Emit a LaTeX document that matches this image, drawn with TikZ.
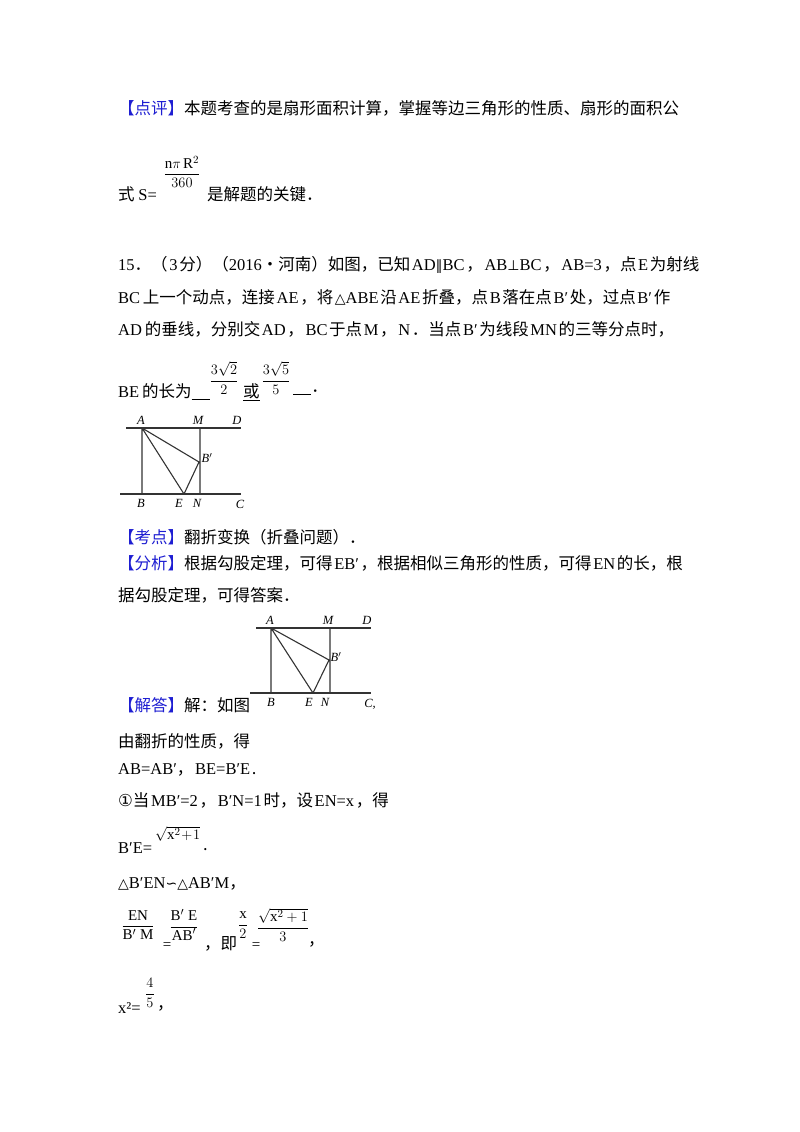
\documentclass[tikz,border=0pt]{standalone}
\usepackage{fontspec}
\setmainfont{Liberation Serif}
\newfontfamily\cjk{Noto Sans CJK SC}
\newfontfamily\sym{DejaVu Sans}
\definecolor{kb}{RGB}{30,30,210}
\newcommand{\lt}[1]{{\rmfamily\hspace{0.1em}#1\hspace{0.1em}}}
\newcommand{\sy}[1]{{\sym\fontsize{14}{16}\selectfont #1}}
\newcommand{\kw}[1]{{\color{kb}【#1】}}
\begin{document}
\begin{tikzpicture}[x=1pt,y=-1pt,
  tx/.style={anchor=west,inner sep=0pt,font=\cjk\fontsize{16.5}{20}\selectfont},
  fr/.style={inner sep=0pt,font=\fontsize{15}{16}\selectfont},
  lb/.style={inner sep=0pt,font=\itshape\fontsize{12.5}{12}\selectfont},
  ln/.style={line width=1.1pt,black!80}]
\useasboundingbox (0,0) rectangle (800,1132);
\fill[white] (0,0) rectangle (800,1132);
\node[tx] (t1) at (118,108) {\kw{点评}本题考查的是扇形面积计算，掌握等边三角形的性质、扇形的面积公};
\node[fr] (f1) at (182,172) {$\displaystyle\frac{\mathrm{n}\pi\,\mathrm{R}^2}{360}$};
\node[tx] (t2) at (118,194) {式 {\rmfamily S=}};
\node[tx] (t3) at (207,194) {是解题的关键．};
\node[tx] (t4) at (118,265) {{\rmfamily 15}．（\lt{3}分）（{\rmfamily 2016}•河南）如图，已知\lt{AD\sy{∥}BC}，\lt{AB\sy{⊥}BC}，\lt{AB=3}，点\lt{E}为射线};
\node[tx] (t5) at (118,297) {{\rmfamily BC}\,上一个动点，连接\lt{AE}，将\lt{\sy{△}ABE}沿\lt{AE}折叠，点\lt{B}落在点\lt{B′}处，过点\lt{B′}作};
\node[tx] (t6) at (118,329) {{\rmfamily AD}\,的垂线，分别交\lt{AD}，\lt{BC}于点\lt{M}，\lt{N}．当点\lt{B′}为线段\lt{MN}的三等分点时，};
\node[tx] (t7) at (118,392) {{\rmfamily BE}\,的长为\underline{\hspace{1.1em}}};
\node[fr] (f2) at (224,378) {$\displaystyle\frac{3\sqrt{2}}{2}$};
\node[tx] (t8) at (243,392) {\underline{或}};
\node[fr] (f3) at (276,378) {$\displaystyle\frac{3\sqrt{5}}{5}$};
\node[tx] (t9) at (293,392) {\underline{\hspace{1.1em}}．};
% figure 1
\coordinate (A1) at (142,428); \coordinate (B1) at (142,494);
\coordinate (M1) at (200,428); \coordinate (N1) at (200,494);
\coordinate (E1) at (184,494); \coordinate (P1) at (199,462);
\draw[ln] (126,428) -- (241,428); \draw[ln] (120,494) -- (241,494);
\draw[ln] (A1)--(B1) (M1)--(N1) (A1)--(E1) (A1)--(P1)--(E1);
\node[lb] (la1) at (141,420) {A}; \node[lb] (lm1) at (198,420) {M};
\node[lb] (ld1) at (237,420) {D}; \node[lb] (lp1) at (207,458) {B$'$};
\node[lb] (lb1) at (141,503) {B}; \node[lb] (le1) at (179,503) {E};
\node[lb] (ln1) at (197,503) {N}; \node[lb] (lc1) at (240,504) {C};
\node[tx] (t10) at (118,537) {\kw{考点}翻折变换（折叠问题）．};
\node[tx] (t11) at (118,563) {\kw{分析}根据勾股定理，可得\lt{EB′}，根据相似三角形的性质，可得\lt{EN}的长，根};
\node[tx] (t12) at (118,595) {据勾股定理，可得答案．};
% figure 2
\coordinate (A2) at (271,628); \coordinate (B2) at (271,693);
\coordinate (M2) at (330,628); \coordinate (N2) at (330,693);
\coordinate (E2) at (313,693); \coordinate (P2) at (329,660);
\draw[ln] (256,628) -- (371,628); \draw[ln] (250,693) -- (371,693);
\draw[ln] (A2)--(B2) (M2)--(N2) (A2)--(E2) (A2)--(P2)--(E2);
\node[lb] (la2) at (270,620) {A}; \node[lb] (lm2) at (328,620) {M};
\node[lb] (ld2) at (367,620) {D}; \node[lb] (lp2) at (336,657) {B$'$};
\node[lb] (lb2) at (271,702) {B}; \node[lb] (le2) at (309,702) {E};
\node[lb] (ln2) at (325,702) {N}; \node[lb] (lc2) at (370,704) {C,};
\node[tx] (t13) at (118,705) {\kw{解答}解：如图};
\node[tx] (t14) at (118,741) {由翻折的性质，得};
\node[tx] (t15) at (118,770) {{\rmfamily AB=AB′}，\lt{BE=B′E}.};
\node[tx] (t16) at (118,800) {{\sym ①}当\lt{MB′=2}，\lt{B′N=1}时，设\lt{EN=x}，得};
\node[tx] (t17) at (118,848) {{\rmfamily B′E=}};
\node[fr,anchor=west] (f4) at (155,834) {$\sqrt{\mathrm{x}^2\!+\!1}$};
\node[tx] (t18) at (203,850) {.};
\node[tx] (t19) at (118,884) {{\rmfamily\sy{△}B′EN\sy{∽}\sy{△}AB′M}，};
\node[fr] (f5) at (138,925) {$\displaystyle\frac{\mathrm{EN}}{\mathrm{B}'\;\mathrm{M}}$};
\node[fr] (eq1) at (167,946) {=};
\node[fr] (f6) at (184,925) {$\displaystyle\frac{\mathrm{B}'\;\mathrm{E}}{\mathrm{AB}'}$};
\node[tx] (t20) at (204,944) {，即};
\node[fr] (f7) at (243,925) {$\displaystyle\frac{\mathrm{x}}{2}$};
\node[fr] (eq2) at (256,946) {=};
\node[fr] (f8) at (283,925) {$\displaystyle\frac{\sqrt{\mathrm{x}^2+1}}{3}$};
\node[tx] (t21) at (308,944) {，};
\node[tx] (t22) at (118,1008) {{\rmfamily x²=}};
\node[fr] (f9) at (150,993) {$\displaystyle\frac{4}{5}$};
\node[tx] (t23) at (157,1008) {，};
\end{tikzpicture}
\end{document}
